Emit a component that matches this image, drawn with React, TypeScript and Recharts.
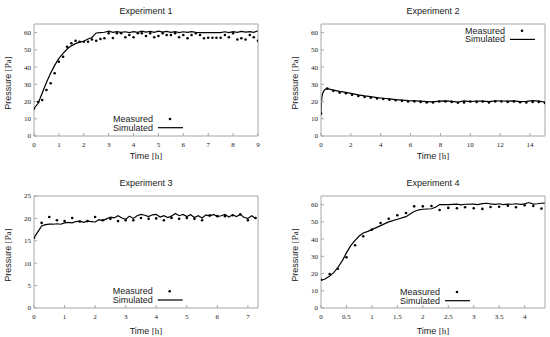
import { ComposedChart, Line, Scatter, XAxis, YAxis } from "recharts";

// Experiment 1 (10 min sampling)
const exp1Time = [
  0, 0.17, 0.33, 0.5, 0.67, 0.83, 1, 1.17, 1.33, 1.5, 1.67, 1.83, 2, 2.17, 2.33, 2.5, 2.67, 2.83, 3,
  3.17, 3.33, 3.5, 3.67, 3.83, 4, 4.17, 4.33, 4.5, 4.67, 4.83, 5, 5.17, 5.33, 5.5, 5.67, 5.83, 6,
  6.17, 6.33, 6.5, 6.67, 6.83, 7, 7.17, 7.33, 7.5, 7.67, 7.83, 8, 8.17, 8.33, 8.5, 8.67, 8.83, 9,
];
const exp1Measured = [
  16, 19.7, 20.9, 26.7, 30.6, 36.4, 43.1, 46, 51.8, 53.8, 55.3, 54.7, 54.7, 54.7, 56, 55.3, 56.3, 56.7, 59.6,
  56.9, 59.6, 59.6, 57.3, 58.6, 57.3, 59.6, 59.6, 58, 59.6, 57.3, 58, 59.6, 58.6, 58.6, 59.6, 57.3, 58.6,
  56.7, 58.6, 59.6, 58.6, 56.7, 57, 57, 57, 57, 58.6, 57.3, 59.6, 56, 56.7, 56, 58.6, 57.3, 55.3,
];
const exp1Simulated = [
  16, 19, 25, 31, 36.5, 41, 45, 48, 50.5, 52.3, 53.6, 54.5, 55, 56.3, 57.2, 59.8, 60, 60.2, 60.8,
  60.1, 60.6, 60.2, 60.5, 60, 60.6, 60.2, 60.9, 60.3, 60.7, 60.1, 60.8, 60.3, 60.7, 60.2, 60.6, 60, 60.5,
  60.1, 60.6, 60.2, 60, 60, 60, 60, 60, 60, 60.5, 60, 60.6, 60.2, 60.7, 60.3, 60.6, 60.2, 61,
];

// Experiment 2 (25 min sampling)
const exp2Time = [
  0, 0.42, 0.83, 1.25, 1.67, 2.08, 2.5, 2.92, 3.33, 3.75, 4.17, 4.58, 5, 5.42, 5.83, 6.25, 6.67, 7.08, 7.5,
  7.92, 8.33, 8.75, 9.17, 9.58, 10, 10.42, 10.83, 11.25, 11.67, 12.08, 12.5, 12.92, 13.33, 13.75, 14.17, 14.58, 15,
];
const exp2Measured = [
  13, 27.5, 26.2, 25.2, 24.8, 24, 23.2, 22.6, 22.2, 21.8, 21.5, 21.1, 20.8, 20.4, 20, 20.1, 19.8, 19.5, 19.5,
  20, 20, 19.8, 19.3, 19.5, 20, 19.8, 20, 19.5, 20, 20, 19.8, 20, 19.6, 19.5, 19.8, 19.8, 19.2,
];
const exp2SimTime = [
  0, 0.05, 0.1, 0.2, 0.3, 0.42, 0.83, 1.25, 1.67, 2.08, 2.5, 2.92, 3.33, 3.75, 4.17, 4.58, 5, 5.42, 5.83,
  6.25, 6.67, 7.08, 7.5, 7.92, 8.33, 8.75, 9.17, 9.58, 10, 10.42, 10.83, 11.25, 11.67, 12.08, 12.5, 12.92,
  13.33, 13.75, 14.17, 14.58, 15,
];
const exp2Simulated = [
  13, 22, 24.5, 26.3, 27.2, 27.5, 26.6, 25.9, 25.3, 24.6, 23.9, 23.3, 22.8, 22.3, 21.9, 21.5, 21.1, 20.8, 20.5,
  20.4, 20.2, 20, 19.8, 20.2, 20.4, 20.1, 19.7, 20.4, 20, 20.3, 20.2, 20, 20.4, 20.3, 20.2, 20.4,
  20, 20.1, 20.5, 20.2, 19.6,
];

// Experiment 3 (15 min sampling)
const exp3Time = [
  0, 0.25, 0.5, 0.75, 1, 1.25, 1.5, 1.75, 2, 2.25, 2.5, 2.75, 3, 3.25, 3.5, 3.75, 4, 4.25, 4.5, 4.75,
  5, 5.25, 5.5, 5.75, 6, 6.25, 6.5, 6.75, 7, 7.25,
];
const exp3Measured = [
  15.7, 19, 20.3, 19.6, 19.4, 20.1, 19.3, 19.4, 20.3, 19.6, 19.9, 19.4, 19.6, 19.6, 20.1, 19.9, 20, 19.6, 20.1, 19.9,
  20.1, 19.9, 19.6, 20.7, 20.5, 20.5, 20.7, 20.9, 19.6, 20.1,
];
const exp3SimTime = [
  0, 0.125, 0.25, 0.375, 0.5, 0.625, 0.75, 0.875, 1, 1.125, 1.25, 1.375, 1.5, 1.625, 1.75, 1.875, 2, 2.125,
  2.25, 2.375, 2.5, 2.625, 2.75, 2.875, 3, 3.125, 3.25, 3.375, 3.5, 3.625, 3.75, 3.875, 4, 4.125, 4.25,
  4.375, 4.5, 4.625, 4.75, 4.875, 5, 5.125, 5.25, 5.375, 5.5, 5.625, 5.75, 5.875, 6, 6.125, 6.25, 6.375,
  6.5, 6.625, 6.75, 6.875, 7, 7.125, 7.25,
];
const exp3Simulated = [
  15.7, 17, 18.3, 18.6, 18.7, 18.7, 18.8, 18.7, 19, 19.1, 19, 19.3, 19.4, 19.1, 19.4, 19.3, 19.2, 19.7,
  19.5, 19.9, 20.3, 20.1, 20.6, 20.1, 19.8, 20.5, 20, 20.6, 20.9, 20.7, 20.4, 20.8, 20.9, 20.3, 20.6,
  20.2, 20.5, 21.1, 20.6, 20.9, 20.4, 20.8, 20.2, 20.6, 20.1, 20.8, 20.5, 20.9, 20.4, 20.6, 20.9, 20.3,
  20.8, 20.4, 20.9, 20.2, 20, 20.6, 20,
];

// Experiment 4 (10 min sampling)
const exp4Time = [
  0, 0.17, 0.33, 0.5, 0.67, 0.83, 1, 1.17, 1.33, 1.5, 1.67, 1.83, 2, 2.17, 2.33, 2.5, 2.67, 2.83, 3,
  3.17, 3.33, 3.5, 3.67, 3.83, 4, 4.17, 4.33,
];
const exp4Measured = [
  16.4, 19.7, 22.8, 29.4, 36.4, 41.6, 45.5, 49.3, 51.8, 53.8, 55.1, 59, 59, 59.2, 56.9, 58.1, 57.9, 58.5, 57.9,
  57.5, 58.6, 58.8, 59.4, 58.5, 59.6, 59.2, 57.7,
];
const exp4SimTime = [
  0, 0.08, 0.17, 0.25, 0.33, 0.42, 0.5, 0.58, 0.67, 0.75, 0.83, 0.92, 1, 1.17, 1.33, 1.5, 1.67, 1.75, 1.83,
  1.92, 2, 2.17, 2.25, 2.33, 2.5, 2.67, 2.75, 2.83, 3, 3.08, 3.17, 3.25, 3.33, 3.42, 3.5, 3.58, 3.67, 3.75,
  3.83, 3.92, 4, 4.08, 4.17, 4.25, 4.33, 4.4,
];
const exp4Simulated = [
  16, 16.8, 18.5, 20.5, 23.5, 27.5, 32, 36, 39.2, 41.8, 43.5, 44.5, 45.5, 47.8, 50, 51.5, 53, 54.5, 56,
  57, 57.3, 57.6, 58.5, 60, 60, 60.3, 59.8, 60.2, 60.3, 60, 60.6, 60.8, 60.4, 60.1, 60.5, 60, 60.3, 60.2,
  60.5, 60.1, 60.4, 61.2, 60.3, 60.5, 60.8, 60.9,
];

const pressureTicks60 = [0, 10, 20, 30, 40, 50, 60];
const pressureTicks25 = [0, 5, 10, 15, 20, 25];
const timeTicks1 = [0, 1, 2, 3, 4, 5, 6, 7, 8, 9];
const timeTicks2 = [0, 2, 4, 6, 8, 10, 12, 14];
const timeTicks3 = [0, 1, 2, 3, 4, 5, 6, 7];
const timeTicks4 = [0, 0.5, 1, 1.5, 2, 2.5, 3, 3.5, 4];

type Row = { t: number; p: number };
const toRows = (t: number[], p: number[]): Row[] => t.map((v, i) => ({ t: v, p: p[i] }));

const BOX = "#a6a6a6";
const INK = "#1a1a1a";
const SERIF = "'Liberation Serif', 'DejaVu Serif', serif";
const SANS = "'Liberation Sans', Arial, sans-serif";
const W = 275;

type PanelProps = {
  left: number;
  top: number;
  height: number;
  plot: { left: number; right: number; top: number; bottom: number };
  title: string;
  xDomain: [number, number];
  xTicks: number[];
  yDomain: [number, number];
  yTicks: number[];
  measured: Row[];
  simulated: Row[];
  legend: { x: number; y: number };
  yLabelX: number;
  xLabelGap: number;
};

function Dot(props: any) {
  if (props.cx == null || props.cy == null) return null;
  return <circle cx={props.cx} cy={props.cy} r={1.3} fill="#000" />;
}

function Panel(p: PanelProps) {
  const { plot } = p;
  const cx = (plot.left + plot.right) / 2;
  const cy = (plot.top + plot.bottom) / 2;
  const tickFont = { fontSize: 7, fontFamily: SERIF, fill: INK };
  return (
    <div style={{ position: "absolute", left: p.left, top: p.top, width: W, height: p.height }}>
      <ComposedChart
        width={W}
        height={p.height}
        margin={{ top: plot.top - 1, right: W - plot.right - 1, bottom: p.height - plot.bottom - 30, left: 0 }}
      >
        <XAxis
          dataKey="t"
          type="number"
          domain={p.xDomain}
          ticks={p.xTicks}
          allowDataOverflow
          height={30}
          stroke={BOX}
          tickSize={-3}
          tickMargin={9.5}
          tick={tickFont}
          interval={0}
        />
        <XAxis
          xAxisId="top"
          orientation="top"
          dataKey="t"
          type="number"
          domain={p.xDomain}
          ticks={p.xTicks}
          allowDataOverflow
          height={1}
          stroke={BOX}
          tickSize={-3}
          tick={false}
          interval={0}
        />
        <YAxis
          type="number"
          domain={p.yDomain}
          ticks={p.yTicks}
          allowDataOverflow
          width={plot.left}
          stroke={BOX}
          tickSize={-3}
          tickMargin={6}
          tick={tickFont}
          interval={0}
        />
        <YAxis
          yAxisId="right"
          orientation="right"
          type="number"
          domain={p.yDomain}
          ticks={p.yTicks}
          allowDataOverflow
          width={1}
          stroke={BOX}
          tickSize={-3}
          tick={false}
          interval={0}
        />
        <Scatter data={p.measured} dataKey="p" shape={Dot} isAnimationActive={false} />
        <Line
          data={p.simulated}
          dataKey="p"
          type="linear"
          stroke="#000"
          strokeWidth={1.2}
          dot={false}
          activeDot={false}
          isAnimationActive={false}
        />
      </ComposedChart>
      <svg
        width={W}
        height={p.height}
        style={{ position: "absolute", left: 0, top: 0, pointerEvents: "none" }}
      >
        <text x={cx} y={plot.top - 13.5} textAnchor="middle" dominantBaseline="central" fontFamily={SANS} fontSize={9} fill={INK}>
          {p.title}
        </text>
        <text
          x={cx}
          y={plot.bottom + p.xLabelGap}
          textAnchor="middle"
          dominantBaseline="central"
          fontFamily={SANS}
          fontSize={9}
          fill={INK}
        >
          Time <tspan fontFamily={SERIF}>[h]</tspan>
        </text>
        <text
          transform={`translate(${p.yLabelX},${cy + 3}) rotate(-90)`}
          textAnchor="middle"
          dominantBaseline="central"
          fontFamily={SANS}
          fontSize={9}
          fill={INK}
        >
          Pressure <tspan fontFamily={SERIF}>[Pa]</tspan>
        </text>
        <text x={p.legend.x} y={p.legend.y} textAnchor="end" dominantBaseline="central" fontFamily={SANS} fontSize={9} fill={INK}>
          Measured
        </text>
        <circle cx={p.legend.x + 17} cy={p.legend.y} r={1.3} fill="#000" />
        <text x={p.legend.x} y={p.legend.y + 8.7} textAnchor="end" dominantBaseline="central" fontFamily={SANS} fontSize={9} fill={INK}>
          Simulated
        </text>
        <line x1={p.legend.x + 5} x2={p.legend.x + 30} y1={p.legend.y + 8.7} y2={p.legend.y + 8.7} stroke="#000" strokeWidth={1.2} />
      </svg>
    </div>
  );
}

export default function App() {
  return (
    <div style={{ position: "absolute", left: 0, top: 0, width: 550, height: 337, background: "#fff", overflow: "hidden" }}>
      <Panel
        left={0}
        top={0}
        height={168}
        plot={{ left: 34, right: 258, top: 24, bottom: 136 }}
        title="Experiment 1"
        xDomain={[0, 9]}
        xTicks={timeTicks1}
        yDomain={[0, 65]}
        yTicks={pressureTicks60}
        measured={toRows(exp1Time, exp1Measured)}
        simulated={toRows(exp1Time, exp1Simulated)}
        legend={{ x: 153, y: 119 }}
        yLabelX={8.3}
        xLabelGap={20}
      />
      <Panel
        left={275}
        top={0}
        height={168}
        plot={{ left: 46, right: 270, top: 24, bottom: 136 }}
        title="Experiment 2"
        xDomain={[0, 15]}
        xTicks={timeTicks2}
        yDomain={[0, 65]}
        yTicks={pressureTicks60}
        measured={toRows(exp2Time, exp2Measured)}
        simulated={toRows(exp2SimTime, exp2Simulated)}
        legend={{ x: 230, y: 30.7 }}
        yLabelX={20}
        xLabelGap={20}
      />
      <Panel
        left={0}
        top={168}
        height={169}
        plot={{ left: 34, right: 258, top: 28, bottom: 140 }}
        title="Experiment 3"
        xDomain={[0, 7.33]}
        xTicks={timeTicks3}
        yDomain={[0, 25]}
        yTicks={pressureTicks25}
        measured={toRows(exp3Time, exp3Measured)}
        simulated={toRows(exp3SimTime, exp3Simulated)}
        legend={{ x: 152.7, y: 123.3 }}
        yLabelX={8.3}
        xLabelGap={22.7}
      />
      <Panel
        left={275}
        top={168}
        height={169}
        plot={{ left: 46, right: 270, top: 28, bottom: 140 }}
        title="Experiment 4"
        xDomain={[0, 4.4]}
        xTicks={timeTicks4}
        yDomain={[0, 65]}
        yTicks={pressureTicks60}
        measured={toRows(exp4Time, exp4Measured)}
        simulated={toRows(exp4SimTime, exp4Simulated)}
        legend={{ x: 165, y: 124 }}
        yLabelX={20}
        xLabelGap={23}
      />
    </div>
  );
}
